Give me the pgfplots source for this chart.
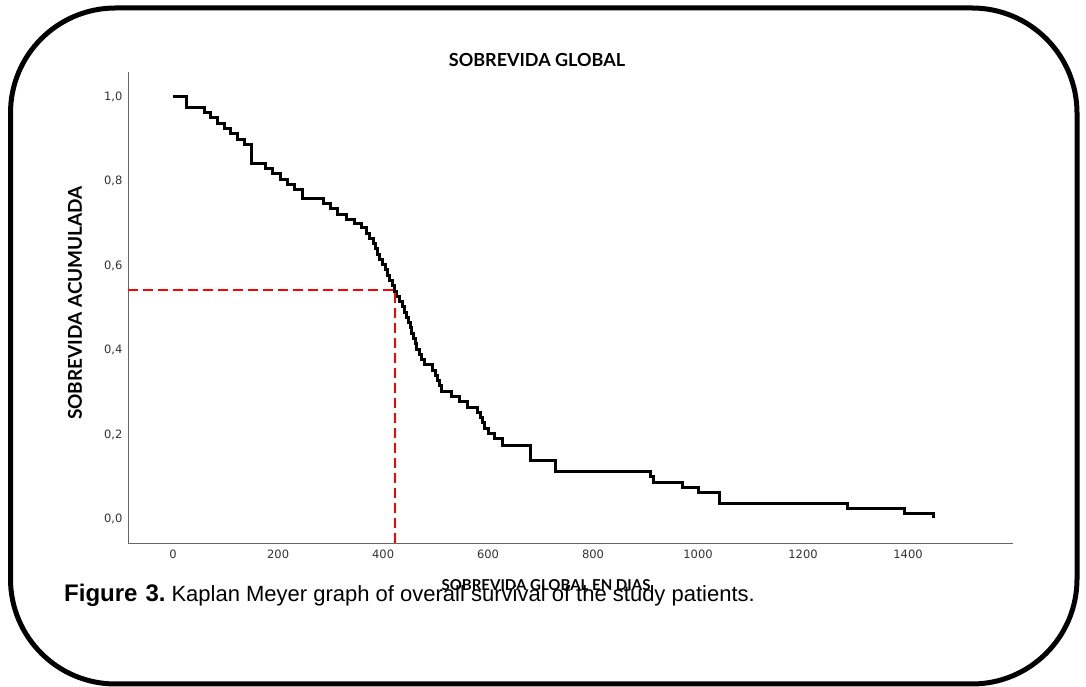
\documentclass[border=0pt]{standalone}
\usepackage{fontspec}
\setmainfont{Liberation Sans}
\newfontfamily\labfont{Lato}
\newfontfamily\tickfont{DejaVu Sans}
\usepackage{pgfplots}
\pgfplotsset{compat=1.18}
\begin{document}
\begin{tikzpicture}
\useasboundingbox (0pt,0pt) rectangle (1086pt,687pt);
\fill[white] (0pt,0pt) rectangle (1086pt,687pt);
\draw[line width=5pt, rounded corners=105pt] (10.5pt,3pt) rectangle (1077pt,679pt);
\begin{axis}[
  at={(128pt,144pt)}, anchor=south west,
  scale only axis, width=885pt, height=471pt,
  xmin=-86, xmax=1600, ymin=-0.057, ymax=1.059,
  axis x line*=bottom, axis y line*=left,
  axis line style={draw=black!60, line width=0.9pt},
  xtick={0,200,400,600,800,1000,1200,1400},
  ytick={0,0.2,0.4,0.6,0.8,1.0},
  major tick length=0pt,
  /pgf/number format/assume math mode=true,
  tick label style={font=\tickfont\fontsize{11.5}{13}\selectfont, text=black!80},
  xticklabel style={yshift=-3pt, /pgf/number format/.cd, 1000 sep={}},
  yticklabel style={xshift=-2pt, /pgf/number format/.cd, fixed, fixed zerofill, precision=1, use comma},
  clip=false,
]
\addplot[const plot, black, line width=3pt, line join=miter] coordinates {
(0,1.0)(25,0.975)
(59,0.9625)(71,0.95)(84,0.9375)(97,0.925)(109,0.9125)(122,0.9)(135,0.8875)
(150,0.8425)
(175,0.83)(190,0.8175)(204,0.805)(218,0.7925)(232,0.78)(246,0.76)
(286,0.7475)(300,0.735)(314,0.7225)(330,0.71)(345,0.70)(358,0.69)
(368,0.6775)(375,0.665)(381,0.6525)(386,0.64)(390,0.6275)(394,0.615)(399,0.6025)(404,0.59)(409,0.5775)(413,0.565)(417,0.5525)(421,0.54)(426,0.5275)(431,0.515)
(436,0.5025)(441,0.49)(445,0.4775)(449,0.465)(452,0.4525)(455,0.44)(458,0.4275)(461,0.415)(463,0.4025)(470,0.39)(474,0.3775)(478,0.365)
(495,0.3525)(499,0.34)(503,0.3275)(507,0.315)(512,0.3025)(530,0.29)(545,0.2775)(560,0.265)(580,0.2525)(586,0.24)(590,0.2275)(594,0.215)(600,0.2025)(612,0.19)(627,0.175)
(680,0.1375)(728,0.1125)(910,0.1)(916,0.0875)(971,0.075)(1000,0.0625)(1040,0.0375)(1284,0.025)(1394,0.0125)(1448,0.003)
};
\addplot[red, line width=2.5pt, dash pattern=on 10pt off 5pt] coordinates {(-86,0.543) (423,0.543) (423,-0.057)};
\end{axis}
\node[font=\labfont\bfseries\fontsize{18}{20}\selectfont] at (537pt,627pt) {SOBREVIDA GLOBAL};
\node[font=\labfont\bfseries\fontsize{19}{21}\selectfont, rotate=90] at (75pt,384pt) {SOBREVIDA ACUMULADA};
\node[font=\labfont\bfseries\fontsize{15}{17}\selectfont] at (546pt,102pt) {SOBREVIDA GLOBAL EN DIAS};
\node[anchor=base west, inner sep=0pt] at (64pt,85pt) {{\fontsize{24}{26}\selectfont\bfseries Figure\hspace{8pt}3.}\hspace{6pt}{\fontsize{22}{24}\selectfont Kaplan Meyer graph of overall survival of the study patients.}};
\end{tikzpicture}
\end{document}
